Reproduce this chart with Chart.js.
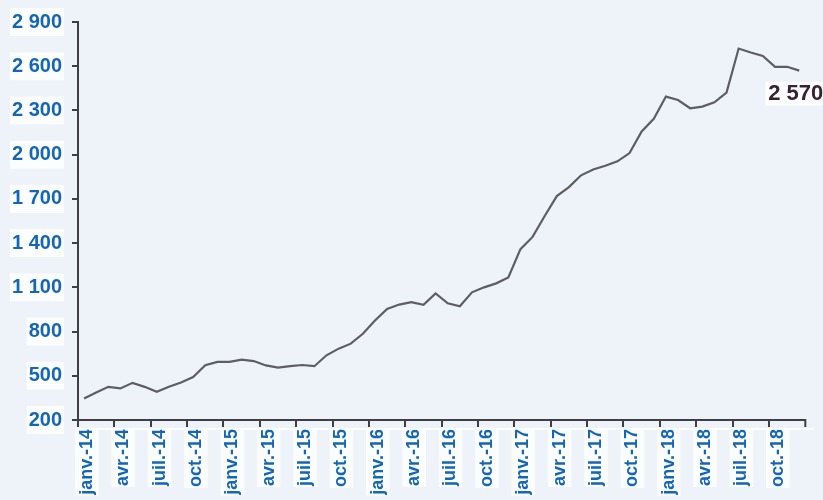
<!DOCTYPE html>
<html lang="fr">
<head>
  <meta charset="UTF-8">
  <title>Série mensuelle 2014-2018</title>
  <script src="https://cdn.jsdelivr.net/npm/chart.js@4/dist/chart.umd.min.js"></script>
  <style>
    html, body { margin: 0; padding: 0; background: #edf3f9; overflow: hidden; }
    #wrap { width: 823px; height: 500px; }
  </style>
</head>
<body>
  <div id="wrap"><canvas id="chart" width="823" height="500"></canvas></div>

  <script>
    const monthNames = ['janv.', 'févr.', 'mars', 'avr.', 'mai', 'juin', 'juil.', 'août', 'sept.', 'oct.', 'nov.', 'déc.'];
    const years = ['14', '15', '16', '17', '18'];

    // values, janv.-14 .. déc.-18
    const values2014 = [346, 387, 425, 414, 452, 425, 391, 425, 454, 492, 571, 594];
    const values2015 = [594, 610, 600, 570, 556, 565, 573, 565, 639, 684, 718, 785];
    const values2016 = [875, 954, 983, 999, 981, 1059, 992, 972, 1066, 1100, 1127, 1167];
    const values2017 = [1359, 1442, 1584, 1719, 1780, 1860, 1899, 1925, 1955, 2011, 2158, 2243];
    const values2018 = [2394, 2371, 2315, 2326, 2355, 2421, 2720, 2693, 2670, 2596, 2596, 2570];

    const yMin = 200;
    const yMax = 2900;
    const yStep = 300;
    const lastLabel = '2 570';

    const labels = [];
    for (const y of years) for (const m of monthNames) labels.push(m + '-' + y);
    const values = [].concat(values2014, values2015, values2016, values2017, values2018);

    const BLUE = '#1466b6';
    const AXIS = '#3e3e44';

    function fmt(v) { return String(v).replace(/\B(?=(\d{3})+(?!\d))/g, ' '); }

    // x axis line (chart.js border runs past the last category) + last value label
    const extras = {
      id: 'extras',
      afterDatasetsDraw(chart) {
        const ctx = chart.ctx;
        const area = chart.chartArea;
        ctx.save();
        ctx.strokeStyle = AXIS;
        ctx.lineWidth = 2;
        ctx.beginPath();
        ctx.moveTo(area.left - 1, area.bottom);
        ctx.lineTo(area.right, area.bottom);
        ctx.lineTo(area.right, area.bottom + 7);
        ctx.stroke();

        const pts = chart.getDatasetMeta(0).data;
        const p = pts[pts.length - 1];
        ctx.font = 'bold 22px "Liberation Sans", Arial, sans-serif';
        ctx.textBaseline = 'middle';
        ctx.textAlign = 'left';
        const x = p.x - 31, y = p.y + 23;
        const w = ctx.measureText(lastLabel).width;
        ctx.fillStyle = 'rgba(255,255,255,0.85)';
        ctx.fillRect(x - 3, y - 12, w + 6, 24);
        ctx.fillStyle = '#3a2330';
        ctx.fillText(lastLabel, x, y);
        ctx.restore();
      }
    };

    new Chart(document.getElementById('chart'), {
      type: 'line',
      data: {
        labels: labels,
        datasets: [{
          data: values,
          borderColor: '#5e5e62',
          borderWidth: 2.2,
          pointRadius: 0,
          tension: 0,
          fill: false
        }]
      },
      options: {
        responsive: false,
        animation: false,
        layout: { padding: { top: 20, right: 17, left: 0, bottom: 0 } },
        plugins: { legend: { display: false }, tooltip: { enabled: false } },
        scales: {
          x: {
            type: 'category',
            offset: true,
            afterFit(scale) { scale.height = 80; },
            grid: {
              offset: true,
              drawOnChartArea: false,
              drawTicks: true,
              tickLength: 7,
              lineWidth: 2,
              color: ctx => (ctx.index % 3 === 0 ? AXIS : 'rgba(0,0,0,0)')
            },
            border: { display: false },
            ticks: {
              autoSkip: false,
              maxRotation: 90,
              minRotation: 90,
              padding: 2,
              labelOffset: -8,
              color: BLUE,
              font: { family: '"Liberation Sans", Arial, sans-serif', size: 18, weight: 'bold' },
              showLabelBackdrop: true,
              backdropColor: 'rgba(255,255,255,0.75)',
              backdropPadding: 1,
              callback: (v, i) => (i % 3 === 0 ? labels[i] : '')
            }
          },
          y: {
            min: yMin,
            max: yMax,
            afterFit(scale) { scale.width = 78; },
            grid: {
              drawOnChartArea: false,
              drawTicks: true,
              tickLength: 6,
              lineWidth: 2,
              color: AXIS
            },
            border: { display: true, color: AXIS, width: 2 },
            ticks: {
              stepSize: yStep,
              padding: 10,
              color: BLUE,
              font: { family: '"Liberation Sans", Arial, sans-serif', size: 20, weight: 'bold' },
              showLabelBackdrop: true,
              backdropColor: 'rgba(255,255,255,0.8)',
              backdropPadding: 2,
              callback: v => fmt(v)
            }
          }
        }
      },
      plugins: [extras]
    });
  </script>
</body>
</html>
